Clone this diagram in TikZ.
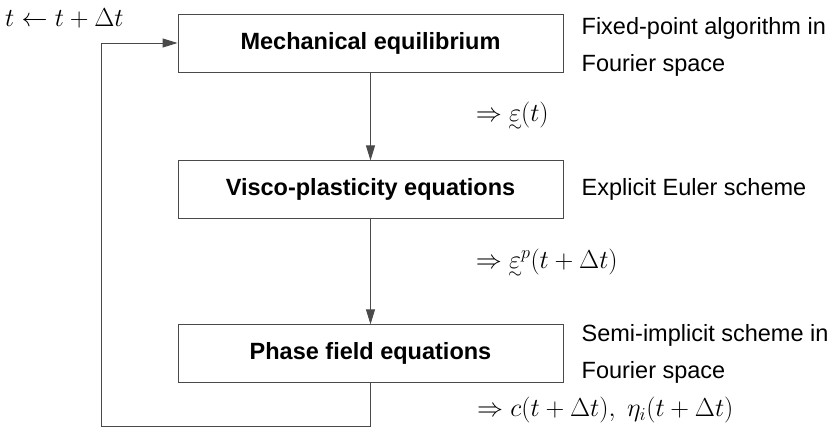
\RequirePackage{fix-cm}
\documentclass[tikz,border=0pt]{standalone}
\usepackage{amsmath}
\usepackage{fontspec}
\setmainfont{Liberation Sans}
\usepackage{tikz}
\usetikzlibrary{positioning,arrows.meta,calc}
\definecolor{frame}{HTML}{4A4A4A}

\newcommand{\tens}[1]{\mathord{\ooalign{$#1$\cr\hidewidth\raisebox{-0.72ex}{$\scriptstyle\sim$}\hidewidth\cr}}}

\begin{document}
\begin{tikzpicture}[
  x=1pt, y=-1pt,
  box/.style={draw=frame, line width=0.9pt, minimum height=58pt, minimum width=385pt, inner sep=0pt, align=center, font=\fontsize{23.5}{28}\selectfont\bfseries},
  note/.style={align=left, inner sep=0pt, font=\fontsize{23.5}{37}\selectfont},
  res/.style={inner sep=0pt, text=black, font=\fontsize{26}{30}\selectfont},
  arr/.style={-{Triangle[length=15pt,width=9pt]}, line width=0.9pt, color=frame}
]
\useasboundingbox (0,0) rectangle (839,437);
\node[box] (mech) at (370.5,43) {Mechanical equilibrium};
\node[box, below=88pt of mech] (visco) {Visco-plasticity equations};
\node[box, below=105pt of visco] (phase) {Phase field equations};
\node[note, right=18pt of mech, yshift=-4pt] (mechnote) {Fixed-point algorithm in\\Fourier space};
\node[note, right=18pt of visco] (visconote) {Explicit Euler scheme};
\node[note, right=18pt of phase] (phasenote) {Semi-implicit scheme in\\Fourier space};
\node[res, anchor=west] (update) at (5,18) {$t \leftarrow t+\Delta t$};
\draw[arr] (mech) -- node[res, right=105pt] (strain) {$\Rightarrow \tens{\varepsilon}(t)$} (visco);
\draw[arr] (visco) -- node[res, pos=0.42, right=105pt] (plast) {$\Rightarrow \tens{\varepsilon}^p(t+\Delta t)$} (phase);
\node[res, anchor=west] (fields) at (477,410) {$\Rightarrow c(t+\Delta t),\ \eta_i(t+\Delta t)$};
% time loop back to the top
\coordinate (back) at (101.5,426);
\draw[arr] (phase.south) |- (back) |- (mech.west);
\end{tikzpicture}
\end{document}
